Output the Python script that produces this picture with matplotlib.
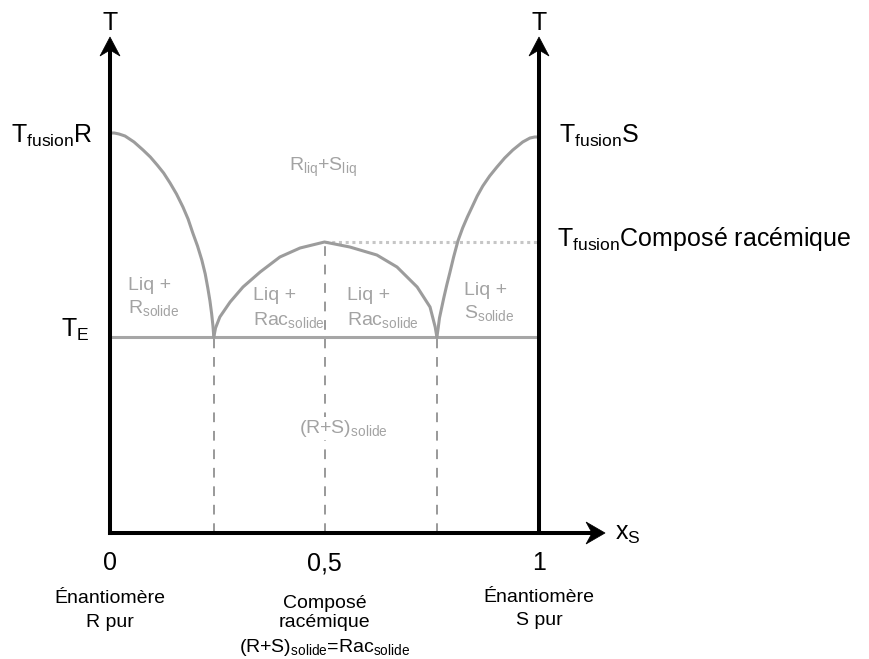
import matplotlib
matplotlib.use("Agg")
import matplotlib.pyplot as plt
from matplotlib.patches import Polygon
import matplotlib.transforms as mtransforms

plt.rcParams['font.family'] = ['Liberation Sans', 'DejaVu Sans']
plt.rcParams['mathtext.fontset'] = 'custom'
plt.rcParams['mathtext.rm'] = 'Liberation Sans'
plt.rcParams['mathtext.it'] = 'Liberation Sans:italic'
plt.rcParams['mathtext.bf'] = 'Liberation Sans:bold'

# ---------------- data (x = mole fraction of S, T in arbitrary units) -------------
x_ticks = [0, 0.5, 1]
x_tick_labels = ["0", "0,5", "1"]
x_eut_R = 0.242
x_eut_S = 0.762
x_rac = 0.5
T_E = 1.96
T_rac = 2.91
T_axis_top = 4.96
x_axis_end = 1.154

liqR_x = [0.000, 0.010, 0.021, 0.035, 0.056, 0.077, 0.094, 0.110, 0.125, 0.140, 0.155,
          0.170, 0.182, 0.193, 0.204, 0.214, 0.222, 0.228, 0.233, 0.237, 0.240, 0.242]
liqR_T = [4.00, 4.00, 3.99, 3.97, 3.91, 3.83, 3.76, 3.68, 3.60, 3.50, 3.39,
          3.26, 3.14, 3.00, 2.87, 2.73, 2.59, 2.45, 2.32, 2.19, 2.07, 1.96]

rac_x = [0.242, 0.246, 0.256, 0.280, 0.310, 0.350, 0.396, 0.443, 0.500,
         0.559, 0.622, 0.669, 0.716, 0.746, 0.758, 0.762]
rac_T = [1.96, 2.05, 2.16, 2.31, 2.46, 2.61, 2.76, 2.85, 2.91,
         2.86, 2.78, 2.66, 2.46, 2.26, 2.06, 1.96]

liqS_x = [0.762, 0.765, 0.768, 0.773, 0.778, 0.785, 0.792, 0.801, 0.811, 0.822, 0.833,
          0.844, 0.856, 0.869, 0.885, 0.902, 0.920, 0.939, 0.962, 0.979, 0.990, 1.000]
liqS_T = [1.96, 2.05, 2.15, 2.25, 2.35, 2.48, 2.60, 2.76, 2.92, 3.05, 3.16,
          3.26, 3.37, 3.47, 3.57, 3.66, 3.75, 3.83, 3.91, 3.95, 3.96, 3.96]

bottom_labels_R = ["Énantiomère", "R pur"]
bottom_labels_mid = ["Composé", "racémique", r"(R+S)$_\mathregular{solide}$=Rac$_\mathregular{solide}$"]
bottom_labels_S = ["Énantiomère", "S pur"]

# ---------------- figure ----------------
W, H = 869, 659
fig = plt.figure(figsize=(W / 100, H / 100), dpi=100)
ax = fig.add_axes([0, 0, 1, 1])
ax.set_xlim(-110 / 429, (W - 110) / 429)
ax.set_ylim((533 - H) / 100, 533 / 100)
ax.axis('off')

curve_col = '#9c9c9c'
text_gray = '#a3a3a3'
dash_col = '#999999'

# dashed verticals
for xv, top in [(x_eut_R, T_E), (x_rac, T_rac), (x_eut_S, T_E)]:
    ax.plot([xv, xv], [0, top], color=dash_col, lw=1.4, ls=(0, (5, 4.5)), zorder=1)

# dotted line at racemic melting temperature
ax.plot([x_rac, 1], [T_rac, T_rac], color='#c6c6c6', lw=2.2, ls=(0, (1, 1.2)), zorder=1)

# eutectic line
ax.plot([0, 1], [T_E, T_E], color='#a6a6a6', lw=2.2, solid_capstyle='butt', zorder=2)

# liquidus curves
for xs, ts in [(liqR_x, liqR_T), (rac_x, rac_T), (liqS_x, liqS_T)]:
    ax.plot(xs, ts, color=curve_col, lw=2.2, solid_joinstyle='round', solid_capstyle='round', zorder=3)

# axes (black) with arrows
ax.plot([0, 0], [0, T_axis_top - 0.12], color='black', lw=2.9, solid_capstyle='projecting', zorder=5)
ax.plot([1, 1], [0, T_axis_top - 0.12], color='black', lw=2.9, solid_capstyle='butt', zorder=5)
ax.plot([0, x_axis_end - 0.03], [0, 0], color='black', lw=2.9, solid_capstyle='projecting', zorder=5)


def arrow_head(x, y, verts):
    tr = fig.dpi_scale_trans + mtransforms.ScaledTranslation(x, y, ax.transData)
    ax.add_patch(Polygon(verts, closed=True, transform=tr, facecolor='black',
                         edgecolor='black', lw=0.5, zorder=6))


up = [(0, 0), (-0.10, -0.19), (0, -0.13), (0.10, -0.19)]
right = [(0, 0), (-0.19, 0.11), (-0.13, 0), (-0.19, -0.11)]
arrow_head(0, T_axis_top, up)
arrow_head(1, T_axis_top, up)
arrow_head(x_axis_end, 0, right)

# black labels
fs_big = 18
ax.text(0, 5.03, "T", fontsize=fs_big, ha='center', va='baseline')
ax.text(1, 5.03, "T", fontsize=fs_big, ha='center', va='baseline')
ax.text(-0.040, 3.90, r"T$_\mathregular{fusion}$R", fontsize=fs_big, ha='right', va='baseline')
ax.text(-0.047, 1.96, r"T$_\mathregular{E}$", fontsize=fs_big, ha='right', va='baseline')
ax.text(1.047, 3.90, r"T$_\mathregular{fusion}$S", fontsize=fs_big, ha='left', va='baseline')
ax.text(1.042, 2.87, r"T$_\mathregular{fusion}$Composé racémique", fontsize=fs_big, ha='left', va='baseline')
ax.text(1.177, -0.07, r"x$_\mathregular{S}$", fontsize=fs_big, ha='left', va='baseline')

# tick labels
for xv, lab in zip(x_ticks, x_tick_labels):
    ax.text(xv, -0.37, lab, fontsize=18, ha='center', va='baseline')

# bottom descriptive labels
fs_small = 14
for lab, yb in zip(bottom_labels_R, [-0.70, -0.94]):
    ax.text(0, yb, lab, fontsize=fs_small, ha='center', va='baseline')
for lab, yb in zip(bottom_labels_mid, [-0.75, -0.94, -1.19]):
    ax.text(0.5, yb, lab, fontsize=fs_small, ha='center', va='baseline')
for lab, yb in zip(bottom_labels_S, [-0.69, -0.92]):
    ax.text(1, yb, lab, fontsize=fs_small, ha='center', va='baseline')

# gray region labels
gl = dict(fontsize=fs_small, color=text_gray, ha='left', va='baseline', zorder=4)
ax.text(0.042, 2.43, "Liq +", **gl)
ax.text(0.042, 2.20, r"R$_\mathregular{solide}$", **gl)
ax.text(0.333, 2.33, "Liq +", **gl)
ax.text(0.333, 2.08, r"Rac$_\mathregular{solide}$", **gl)
ax.text(0.552, 2.33, "Liq +", **gl)
ax.text(0.552, 2.08, r"Rac$_\mathregular{solide}$", **gl)
ax.text(0.825, 2.38, "Liq +", **gl)
ax.text(0.825, 2.15, r"S$_\mathregular{solide}$", **gl)
ax.text(0.417, 3.62, r"R$_\mathregular{liq}$+S$_\mathregular{liq}$", **gl)
ax.text(0.441, 1.00, r"(R+S)$_\mathregular{solide}$",
        bbox=dict(facecolor='white', edgecolor='none', pad=1), **gl)

fig.savefig("out.png", dpi=100)
